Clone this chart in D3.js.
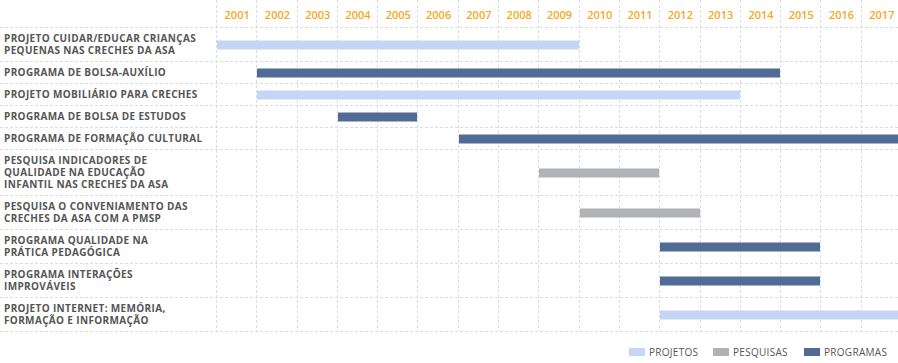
<!DOCTYPE html>
<html>
<head>
<meta charset="utf-8">
<script src="https://cdn.jsdelivr.net/npm/d3@7"></script>
<style>
  body { margin: 0; background: #fff; }
  svg text { font-family: "Open Sans", "Noto Sans", sans-serif; }
</style>
</head>
<body>
<svg id="chart" width="898" height="363"></svg>
<script>
// data
const years = d3.range(2001, 2018);
const labels = [
  ["PROJETO CUIDAR/EDUCAR CRIANÇAS", "PEQUENAS NAS CRECHES DA ASA"],
  ["PROGRAMA DE BOLSA-AUXÍLIO"],
  ["PROJETO MOBILIÁRIO PARA CRECHES"],
  ["PROGRAMA DE BOLSA DE ESTUDOS"],
  ["PROGRAMA DE FORMAÇÃO CULTURAL"],
  ["PESQUISA INDICADORES DE", "QUALIDADE NA EDUCAÇÃO", "INFANTIL NAS CRECHES DA ASA"],
  ["PESQUISA O CONVENIAMENTO DAS", "CRECHES DA ASA COM A PMSP"],
  ["PROGRAMA QUALIDADE NA", "PRÁTICA PEDAGÓGICA"],
  ["PROGRAMA INTERAÇÕES", "IMPROVÁVEIS"],
  ["PROJETO INTERNET: MEMÓRIA,", "FORMAÇÃO E INFORMAÇÃO"]
];
const startYear = [2001, 2002, 2002, 2004, 2007, 2009, 2010, 2012, 2012, 2012];
const endYear   = [2009, 2014, 2013, 2005, 2017, 2011, 2012, 2015, 2015, 2017];
const kind      = ["projeto", "programa", "projeto", "programa", "programa",
                   "pesquisa", "pesquisa", "programa", "programa", "projeto"];
const legendKeys  = ["projeto", "pesquisa", "programa"];
const legendNames = ["PROJETOS", "PESQUISAS", "PROGRAMAS"];

const svg = d3.select("#chart"),
      W = +svg.attr("width"),
      headerH = 27,
      lineH = 12,
      barH = 9;

const x = d3.scaleLinear().domain([2001, 2018]).range([217, 902]);
const color = d3.scaleOrdinal().domain(legendKeys).range(["#c5d5f5", "#b1b2b5", "#526b96"]);

// row positions from the number of label lines
let acc = headerH;
const rows = labels.map((l, i) => {
  const h = 10 + lineH * l.length;
  const r = {i, lines: l, y0: acc, h};
  acc += h;
  return r;
});
const bottom = acc;

const grid = svg.append("g").attr("stroke", "#dcdcdc").attr("stroke-dasharray", "3,2");

// vertical grid
grid.selectAll(".v")
  .data(years)
  .enter().append("line")
    .attr("x1", d => Math.round(x(d)) - 0.5)
    .attr("x2", d => Math.round(x(d)) - 0.5)
    .attr("y1", 0)
    .attr("y2", bottom);

// horizontal grid
grid.selectAll(".h")
  .data([headerH].concat(rows.map(r => r.y0 + r.h)))
  .enter().append("line")
    .attr("x1", 0)
    .attr("x2", W)
    .attr("y1", d => Math.round(d) + 0.5)
    .attr("y2", d => Math.round(d) + 0.5);

// years
svg.selectAll(".year")
  .data(years)
  .enter().append("text")
    .attr("x", d => x(d + 0.5))
    .attr("y", 19)
    .attr("text-anchor", "middle")
    .style("font-size", "11px")
    .style("font-weight", "600")
    .attr("fill", "#f5a81c")
    .text(d => d);

// row labels
const lab = svg.selectAll(".lab")
  .data(rows)
  .enter().append("text")
    .attr("x", 4)
    .attr("y", r => r.y0 + r.h / 2 - (r.lines.length - 1) * lineH / 2 + 3.5)
    .style("font-size", "10px")
    .style("font-weight", "bold")
    .style("letter-spacing", "0.35px")
    .attr("fill", "#555");

lab.selectAll("tspan")
  .data(r => r.lines)
  .enter().append("tspan")
    .attr("x", 4)
    .attr("dy", (d, j) => j === 0 ? 0 : lineH)
    .text(d => d);

// bars
svg.selectAll(".bar")
  .data(rows)
  .enter().append("rect")
    .attr("x", r => Math.round(x(startYear[r.i])))
    .attr("width", r => Math.round(x(endYear[r.i] + 1)) - Math.round(x(startYear[r.i])) - 1)
    .attr("y", r => Math.round(r.y0 + r.h / 2 - barH / 2) + 0.5)
    .attr("height", barH)
    .attr("fill", r => color(kind[r.i]));

// legend
const legX = [629, 713, 804];
const leg = svg.selectAll(".leg")
  .data(legendKeys)
  .enter().append("g")
    .attr("transform", (d, i) => `translate(${legX[i]},348)`);

leg.append("rect")
  .attr("width", 16)
  .attr("height", 8)
  .attr("fill", d => color(d));

leg.append("text")
  .attr("x", 20)
  .attr("y", 8)
  .style("font-size", "10px")
  .style("letter-spacing", "0.3px")
  .attr("fill", "#555")
  .text((d, i) => legendNames[i]);
</script>
</body>
</html>
